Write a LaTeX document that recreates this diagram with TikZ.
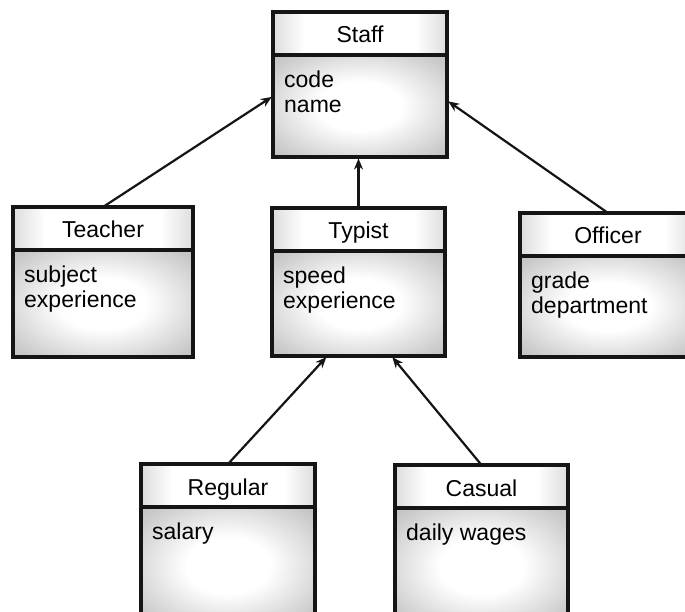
\documentclass[tikz,border=0pt]{standalone}
\usepackage{fontspec}
\setmainfont{Liberation Sans}
\usetikzlibrary{calc,arrows.meta}
\definecolor{ink}{HTML}{151515}
\definecolor{hdrg}{HTML}{B8B8B8}
\definecolor{bodyg}{HTML}{B0B0B0}
\pgfdeclarehorizontalshading{hdrshade}{100bp}{color(0bp)=(hdrg); color(18bp)=(hdrg!85!white); color(34bp)=(white); color(66bp)=(white); color(82bp)=(hdrg!85!white); color(100bp)=(hdrg)}
\pgfdeclareradialshading{bodyshade}{\pgfpoint{0bp}{0bp}}{color(0bp)=(white); color(12bp)=(white); color(32bp)=(bodyg!70!white); color(45bp)=(bodyg); color(75bp)=(bodyg)}
\tikzset{
  classbox/.style={inner sep=0pt, outer sep=0pt},
  border/.style={draw=ink, line width=3.5pt},
  titletext/.style={anchor=base, inner sep=0pt, text=black, font=\fontsize{23}{25}\selectfont},
  attrtext/.style={anchor=north west, inner sep=0pt, align=left, text=black, font=\fontsize{23}{25}\selectfont},
  inh/.style={draw=ink, line width=2.2pt, -{Stealth[length=11pt,width=9pt]}, shorten >=1.5pt}
}
% #1 name, #2 cx, #3 cy, #4 width, #5 height, #6 title, #7 attributes
\newcommand{\umlclass}[7]{%
  \path node[classbox, minimum width=#4pt, minimum height=#5pt] (#1) at (#2,#3) {};
  \coordinate (#1-hl) at ($(#1.north west)+(0,43)$);
  \coordinate (#1-hr) at ($(#1.north east)+(0,43)$);
  \shade[shading=hdrshade] (#1.north west) rectangle (#1-hr);
  \shade[shading=bodyshade] (#1-hl) rectangle (#1.south east);
  \draw[border] (#1.north west) rectangle (#1.south east);
  \draw[border] (#1-hl) -- (#1-hr);
  \node[titletext] (#1-title) at ($(#1.north)+(0,31)$) {#6};
  \node[attrtext] (#1-attrs) at ($(#1.north west)+(11,59)$) {#7};
}
\begin{document}
\begin{tikzpicture}[x=1pt,y=-1pt]
  \useasboundingbox (0,0) rectangle (685,612);
  \fill[white] (0,0) rectangle (685,612);
  \clip (0,0) rectangle (685,612);
  \umlclass{staff}{360}{84.5}{174}{145}{Staff}{code\\name}
  \umlclass{teacher}{103}{282}{180}{150}{Teacher}{subject\\experience}
  \umlclass{typist}{358.5}{282}{173}{148}{Typist}{speed\\experience}
  \umlclass{officer}{608}{285}{176}{144}{Officer}{grade\\department}
  \umlclass{regular}{228}{544}{174}{160}{Regular}{salary}
  \umlclass{casual}{481.5}{545}{173}{160}{Casual}{daily wages}
  \draw[inh] (teacher.north) -- ($(staff.north west)!0.58!(staff.south west)$);
  \draw[inh] (typist.north) -- (typist.north |- staff.south);
  \draw[inh] (officer.north) -- ($(staff.north east)!0.61!(staff.south east)$);
  \draw[inh] (regular.north) -- ($(typist.south west)!0.32!(typist.south east)$);
  \draw[inh] (casual.north) -- ($(typist.south west)!0.69!(typist.south east)$);
\end{tikzpicture}
\end{document}
